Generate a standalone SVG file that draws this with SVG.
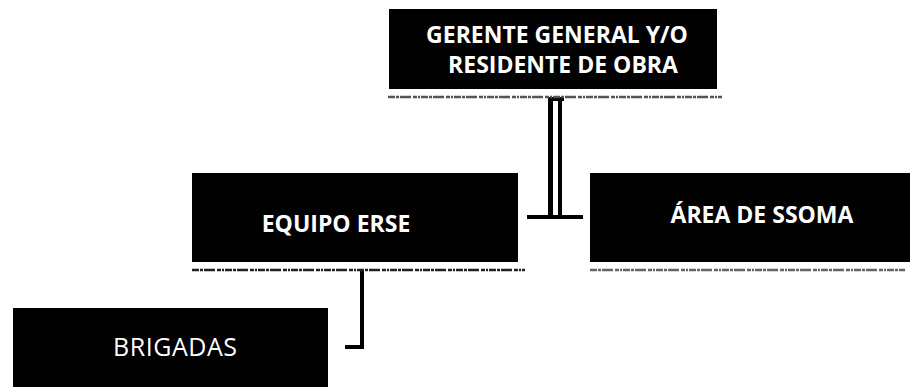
<svg xmlns="http://www.w3.org/2000/svg" width="910" height="387" viewBox="0 0 910 387">
<style>
.box{fill:#000}
.t{fill:#fff;font-family:"Open Sans","Noto Sans",sans-serif;font-size:23px;text-anchor:middle}
.b{font-weight:bold}
.sh{stroke-width:2.4;fill:none;stroke-dasharray:7 1 3 1 11 2 4 1 2 1}
.c{stroke:#000;fill:none}
</style>
<rect width="910" height="387" fill="#fff"/>
<g id="connectors">
<line x1="550.5" y1="98" x2="550.5" y2="216" class="c" stroke-width="5"/>
<line x1="560" y1="98" x2="560" y2="216" class="c" stroke-width="4"/>
<line x1="548" y1="99" x2="564" y2="99" class="c" stroke-width="4"/>
<line x1="527" y1="217" x2="583" y2="217" class="c" stroke-width="4"/>
<polyline points="362,271 362,347 345,347" class="c" stroke-width="4"/>
</g>
<g id="gerente">
<rect class="box" x="389" y="9" width="328" height="80"/>
<line x1="388" y1="97" x2="722" y2="97" class="sh" stroke="#555"/>
<text class="t b" x="557" y="43">GERENTE GENERAL Y/O</text>
<text class="t b" x="563" y="73">RESIDENTE DE OBRA</text>
</g>
<g id="equipo">
<rect class="box" x="192" y="173" width="326" height="89"/>
<line x1="192" y1="270" x2="525" y2="270" class="sh" stroke="#222"/>
<text class="t b" x="336" y="232">EQUIPO ERSE</text>
</g>
<g id="ssoma">
<rect class="box" x="590" y="173" width="320" height="89"/>
<line x1="590" y1="270" x2="905" y2="270" class="sh" stroke="#666"/>
<text class="t b" x="762" y="223">ÁREA DE SSOMA</text>
</g>
<g id="brigadas">
<rect class="box" x="13" y="308" width="315" height="79"/>
<text class="t" x="175" y="356" style="font-size:25px" textLength="124" lengthAdjust="spacing">BRIGADAS</text>
</g>
</svg>
